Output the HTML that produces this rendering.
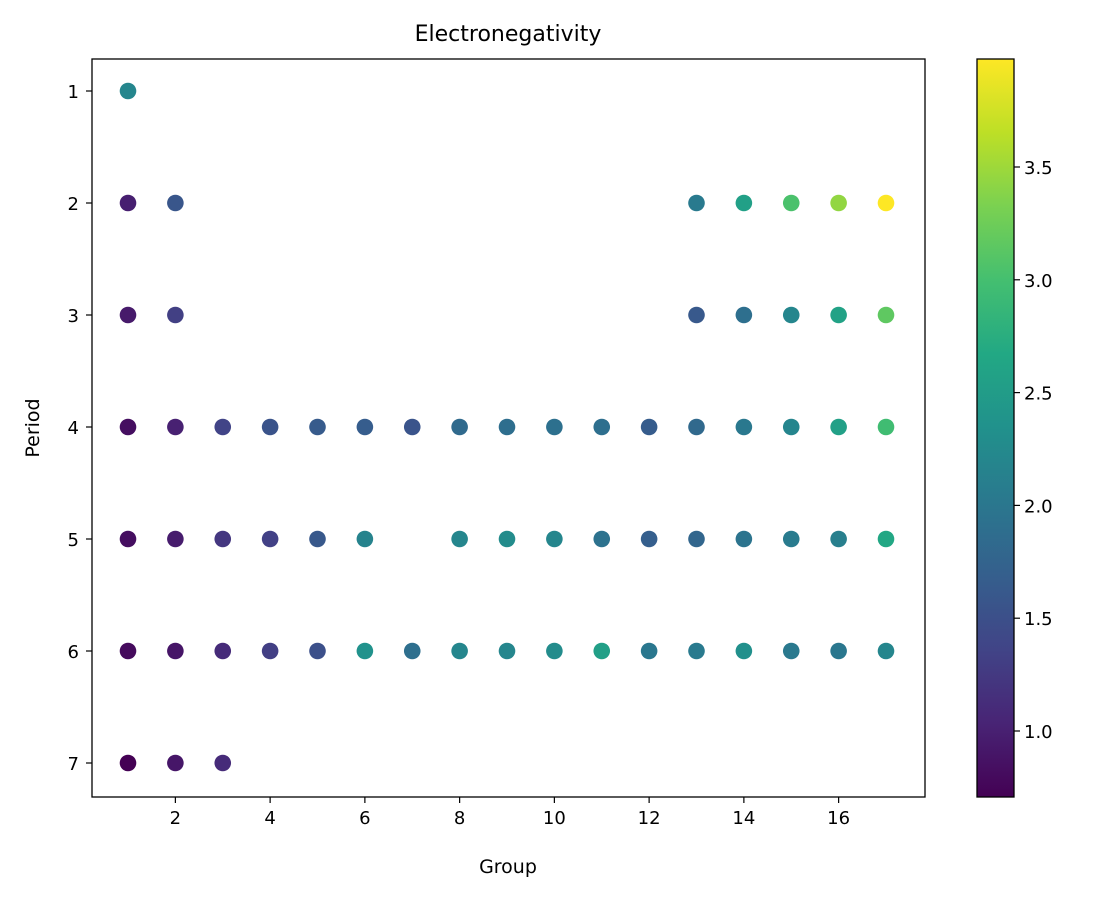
<!DOCTYPE html>
<html><head><meta charset="utf-8"><style>
body{margin:0;background:#fff;}
svg text{font-family:"DejaVu Sans","Liberation Sans",sans-serif;fill:#000;}
</style></head><body>
<svg id="s" width="1094" height="898" xmlns="http://www.w3.org/2000/svg">
<defs><linearGradient id="vg" x1="0" y1="1" x2="0" y2="0">
<stop offset="0" stop-color="#440154"/><stop offset="0.1" stop-color="#482475"/><stop offset="0.2" stop-color="#414487"/><stop offset="0.3" stop-color="#355f8d"/><stop offset="0.4" stop-color="#2a788e"/><stop offset="0.5" stop-color="#21918c"/><stop offset="0.6" stop-color="#22a884"/><stop offset="0.7" stop-color="#44bf70"/><stop offset="0.8" stop-color="#7ad151"/><stop offset="0.9" stop-color="#bddf26"/><stop offset="1" stop-color="#fde725"/>
</linearGradient></defs>
<text x="508" y="41" font-size="22" text-anchor="middle">Electronegativity</text>
<rect x="92" y="59" width="833" height="738" fill="none" stroke="#000" stroke-width="1.3"/>
<rect x="977" y="59" width="37" height="738" fill="url(#vg)" stroke="#000" stroke-width="1.3"/>
<text x="508" y="873" font-size="19" text-anchor="middle">Group</text>
<text transform="translate(39,428) rotate(-90)" font-size="19" text-anchor="middle">Period</text>
<g id="g"></g>
</svg>
<script>
const S=[[0x44,0x01,0x54],[0x48,0x24,0x75],[0x41,0x44,0x87],[0x35,0x5f,0x8d],[0x2a,0x78,0x8e],[0x21,0x91,0x8c],[0x22,0xa8,0x84],[0x44,0xbf,0x70],[0x7a,0xd1,0x51],[0xbd,0xdf,0x26],[0xfd,0xe7,0x25]];
function col(v){let t=(v-0.7)/(3.98-0.7);t=Math.max(0,Math.min(1,t))*10;let i=Math.min(9,Math.floor(t)),f=t-i;
let c=S[i].map((a,k)=>Math.round(a+(S[i+1][k]-a)*f));return `rgb(${c})`;}
const X=g=>128+(g-1)*47.375, Y=p=>91+(p-1)*112;
const d=[[1,1,2.20],
[2,1,.98],[2,2,1.57],[2,13,2.04],[2,14,2.55],[2,15,3.04],[2,16,3.44],[2,17,3.98],
[3,1,.93],[3,2,1.31],[3,13,1.61],[3,14,1.90],[3,15,2.19],[3,16,2.58],[3,17,3.16],
[4,1,.82],[4,2,1.0],[4,3,1.36],[4,4,1.54],[4,5,1.63],[4,6,1.66],[4,7,1.55],[4,8,1.83],[4,9,1.88],[4,10,1.91],[4,11,1.90],[4,12,1.65],[4,13,1.81],[4,14,2.01],[4,15,2.18],[4,16,2.55],[4,17,2.96],
[5,1,.82],[5,2,.95],[5,3,1.22],[5,4,1.33],[5,5,1.6],[5,6,2.16],[5,8,2.2],[5,9,2.28],[5,10,2.2],[5,11,1.93],[5,12,1.69],[5,13,1.78],[5,14,1.96],[5,15,2.05],[5,16,2.1],[5,17,2.66],
[6,1,.79],[6,2,.89],[6,3,1.1],[6,4,1.3],[6,5,1.5],[6,6,2.36],[6,7,1.9],[6,8,2.2],[6,9,2.2],[6,10,2.28],[6,11,2.54],[6,12,2.0],[6,13,2.04],[6,14,2.33],[6,15,2.02],[6,16,2.0],[6,17,2.2],
[7,1,.7],[7,2,.9],[7,3,1.1]];
let h='';
for(const [p,g,v] of d)h+=`<circle cx="${X(g)}" cy="${Y(p)}" r="8.3" fill="${col(v)}"/>`;
for(let g=2;g<=16;g+=2)h+=`<line x1="${X(g)}" y1="797" x2="${X(g)}" y2="803" stroke="#000" stroke-width="1.2"/><text x="${X(g)}" y="824" font-size="18" text-anchor="middle">${g}</text>`;
for(let p=1;p<=7;p++)h+=`<line x1="86" y1="${Y(p)}" x2="92" y2="${Y(p)}" stroke="#000" stroke-width="1.2"/><text x="79" y="${Y(p)+7}" font-size="18" text-anchor="end">${p}</text>`;
for(let v=1;v<=3.51;v+=0.5){let y=731-(v-1)*225.6;h+=`<line x1="1014" y1="${y}" x2="1020" y2="${y}" stroke="#000" stroke-width="1.2"/><text x="1024" y="${y+7}" font-size="18">${v.toFixed(1)}</text>`;}
document.getElementById('g').innerHTML=h;
</script>
</body></html>
